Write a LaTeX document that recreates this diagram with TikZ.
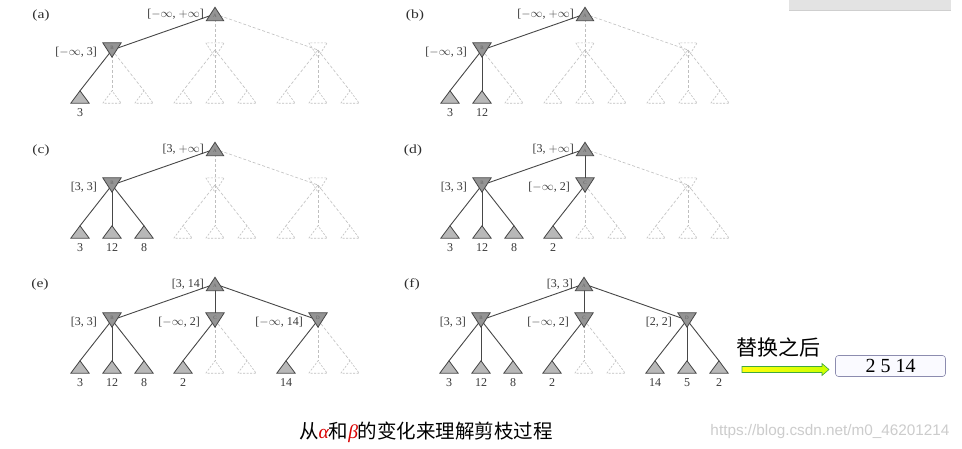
\documentclass[tikz,border=0pt]{standalone}
\usepackage{fontspec}
\setmainfont{Liberation Serif}
\newfontfamily\cjk{Noto Sans CJK SC}
\newfontfamily\wmfont{Liberation Sans}
\usetikzlibrary{backgrounds,calc}
\newcommand\minf{\ensuremath{-\infty}}
\newcommand\pinf{\ensuremath{+\infty}}
\tikzset{
  rootbox/.style={rectangle, inner sep=0pt, minimum width=17pt, minimum height=13pt},
  minbox/.style={rectangle, inner sep=0pt, minimum width=18pt, minimum height=14pt},
  leafbox/.style={rectangle, inner sep=0pt, minimum width=18pt, minimum height=12pt},
  maxf/.style={draw=black!72, fill=black!42, line width=0.8pt, line join=miter},
  minf/.style={draw=black!72, fill=black!42, line width=0.8pt},
  mind/.style={draw=black!25, dash pattern=on 2pt off 1.5pt, line width=0.6pt},
  leaff/.style={draw=black!72, fill=black!28, line width=0.8pt},
  leafd/.style={draw=black!25, dash pattern=on 2pt off 1.5pt, line width=0.6pt},
  letter/.style={font=\fontsize{5}{5}\selectfont, text=black!62, inner sep=0pt},
  sol/.style={draw=black!72, line width=0.9pt},
  das/.style={draw=black!25, dash pattern=on 3pt off 2pt, line width=0.6pt},
  lab/.style={font=\fontsize{12}{12}\selectfont, text=black!78, inner sep=0pt},
  tag/.style={font=\fontsize{12.5}{12.5}\selectfont, text=black!82, inner sep=0pt},
}
% #1 prefix, #2 shift, #3 root label, #4 level-1 nodes name/dx/style/label/letter,
% #5 leaves name/x/style/value, #6 root edges target/style, #7 leaf edges from/to/style
\newcommand\abpanel[7]{%
\begin{scope}[shift={#2}]
  \node[rootbox] (#1A) at (0,0) {};
  \path[maxf] (#1A.south west) -- (#1A.north) -- (#1A.south east) -- cycle;
  \node[letter] (#1Alt) at ($(#1A.center)+(0,2)$) {A};
  \node[lab, anchor=east] (#1Alab) at (-11,0) {#3};
  \foreach \nm/\dx/\st/\lb/\lt in {#4} {
    \node[minbox] (#1\nm) at (\dx,36) {};
    \path[\st] (#1\nm.north west) -- (#1\nm.south) -- (#1\nm.north east) -- cycle;
    \node[letter] (#1\nm lt) at ($(#1\nm.center)+(0,-2)$) {\lt};
    \node[lab, anchor=east] (#1\nm lab) at (\dx-15,38) {\lb};
  }
  \foreach \nm/\xx/\st/\vv in {#5} {
    \node[leafbox] (#1\nm) at (\xx,83) {};
    \path[\st] (#1\nm.south west) -- (#1\nm.north) -- (#1\nm.south east) -- cycle;
    \node[lab] (#1\nm val) at (\xx,99) {\vv};
  }
  \begin{scope}[on background layer]
    \foreach \tg/\st in {#6} \draw[\st] (#1A.center) -- (#1\tg.center);
    \foreach \fr/\tg/\st in {#7} \draw[\st] (#1\fr.center) -- (#1\tg.north);
  \end{scope}
\end{scope}}
\begin{document}
\begin{tikzpicture}[x=1pt,y=-1pt]
\useasboundingbox (0,0) rectangle (962,448);
\begin{scope}[on background layer]
  \fill[white] (0,0) rectangle (962,448);
\end{scope}
% top-right grey strip
\fill[black!11] (789,0) rectangle (951,10);
\draw[black!19, line width=0.8pt] (789,10) -- (951,10);

% panel tags
\node[tag] (ta) at (41,15) {\scalebox{1.25}[1]{(a)}};
\node[tag] (tb) at (415,15) {\scalebox{1.25}[1]{(b)}};
\node[tag] (tc) at (41,150) {\scalebox{1.25}[1]{(c)}};
\node[tag] (td) at (413,150) {\scalebox{1.25}[1]{(d)}};
\node[tag] (te) at (40,284) {\scalebox{1.25}[1]{(e)}};
\node[tag] (tf) at (412,284) {\scalebox{1.25}[1]{(f)}};

% (a)
\abpanel{a}{(215,14)}{[\minf, \pinf]}
 {B/-103/minf/{[\minf, 3]}/B, C/0/mind//, D/103/mind//}
 {b1/-135/leaff/3, b2/-103/leafd/, b3/-71/leafd/, c1/-32/leafd/, c2/0/leafd/, c3/32/leafd/, d1/71/leafd/, d2/103/leafd/, d3/135/leafd/}
 {B/sol, C/das, D/das}
 {B/b1/sol, B/b2/das, B/b3/das, C/c1/das, C/c2/das, C/c3/das, D/d1/das, D/d2/das, D/d3/das}

% (b)
\abpanel{b}{(585,14)}{[\minf, \pinf]}
 {B/-103/minf/{[\minf, 3]}/B, C/0/mind//, D/103/mind//}
 {b1/-135/leaff/3, b2/-103/leaff/12, b3/-71/leafd/, c1/-32/leafd/, c2/0/leafd/, c3/32/leafd/, d1/71/leafd/, d2/103/leafd/, d3/135/leafd/}
 {B/sol, C/das, D/das}
 {B/b1/sol, B/b2/sol, B/b3/das, C/c1/das, C/c2/das, C/c3/das, D/d1/das, D/d2/das, D/d3/das}

% (c)
\abpanel{c}{(215,149)}{[3, \pinf]}
 {B/-103/minf/{[3, 3]}/B, C/0/mind//, D/103/mind//}
 {b1/-135/leaff/3, b2/-103/leaff/12, b3/-71/leaff/8, c1/-32/leafd/, c2/0/leafd/, c3/32/leafd/, d1/71/leafd/, d2/103/leafd/, d3/135/leafd/}
 {B/sol, C/das, D/das}
 {B/b1/sol, B/b2/sol, B/b3/sol, C/c1/das, C/c2/das, C/c3/das, D/d1/das, D/d2/das, D/d3/das}

% (d)
\abpanel{d}{(585,149)}{[3, \pinf]}
 {B/-103/minf/{[3, 3]}/B, C/0/minf/{[\minf, 2]}/C, D/103/mind//}
 {b1/-135/leaff/3, b2/-103/leaff/12, b3/-71/leaff/8, c1/-32/leaff/2, c2/0/leafd/, c3/32/leafd/, d1/71/leafd/, d2/103/leafd/, d3/135/leafd/}
 {B/sol, C/sol, D/das}
 {B/b1/sol, B/b2/sol, B/b3/sol, C/c1/sol, C/c2/das, C/c3/das, D/d1/das, D/d2/das, D/d3/das}

% (e)
\abpanel{e}{(215,284)}{[3, 14]}
 {B/-103/minf/{[3, 3]}/B, C/0/minf/{[\minf, 2]}/C, D/103/minf/{[\minf, 14]}/D}
 {b1/-135/leaff/3, b2/-103/leaff/12, b3/-71/leaff/8, c1/-32/leaff/2, c2/0/leafd/, c3/32/leafd/, d1/71/leaff/14, d2/103/leafd/, d3/135/leafd/}
 {B/sol, C/sol, D/sol}
 {B/b1/sol, B/b2/sol, B/b3/sol, C/c1/sol, C/c2/das, C/c3/das, D/d1/sol, D/d2/das, D/d3/das}

% (f)
\abpanel{f}{(584,284)}{[3, 3]}
 {B/-103/minf/{[3, 3]}/B, C/0/minf/{[\minf, 2]}/C, D/103/minf/{[2, 2]}/D}
 {b1/-135/leaff/3, b2/-103/leaff/12, b3/-71/leaff/8, c1/-32/leaff/2, c2/0/leafd/, c3/32/leafd/, d1/71/leaff/14, d2/103/leaff/5, d3/135/leaff/2}
 {B/sol, C/sol, D/sol}
 {B/b1/sol, B/b2/sol, B/b3/sol, C/c1/sol, C/c2/das, C/c3/das, D/d1/sol, D/d2/sol, D/d3/sol}

% replacement note
\node[font=\cjk\fontsize{21}{21}\selectfont, inner sep=0pt] (tihuan) at (778,347) {替换之后};
\coordinate (arS) at (742,369.5);
\coordinate (arE) at (829,369.5);
\path[draw=green!55!black!75, line width=0.6pt, left color=yellow!95!white, right color=yellow!80!green]
  ($(arS)+(0,-3)$) -- ($(arE)+(-7,-3)$) -- ($(arE)+(-7,-6)$) -- (arE)
  -- ($(arE)+(-7,6)$) -- ($(arE)+(-7,3)$) -- ($(arS)+(0,3)$) -- cycle;
\node[draw=blue!30!black!45, line width=0.6pt, rounded corners=3pt, fill=blue!2,
  minimum width=110pt, minimum height=21pt, inner sep=0pt,
  font=\fontsize{20}{20}\selectfont] (res) at (890.5,366) {2 5 14};

% caption and watermark
\node[font=\cjk\fontsize{19.5}{19.5}\selectfont, inner sep=0pt] (cap) at (426,432)
  {从{\rmfamily\itshape\color{red!85!black}α}和{\rmfamily\itshape\color{red!85!black}β}的变化来理解剪枝过程};
\node[font=\wmfont\fontsize{15.3}{15.3}\selectfont, text=black!20, inner sep=0pt] (wm) at (830,432)
  {https://blog.csdn.net/m0\_46201214};
\end{tikzpicture}
\end{document}
